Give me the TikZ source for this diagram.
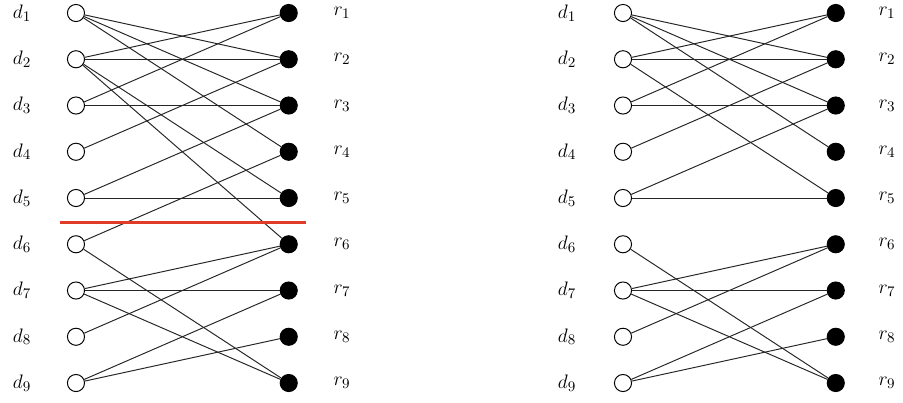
\documentclass[tikz,border=0pt]{standalone}
\usetikzlibrary{positioning}
\definecolor{cutred}{HTML}{E03C28}
\tikzset{
  every picture/.style={line width=0.6pt},
  dnode/.style={circle, draw, fill=white, minimum size=3.7mm, inner sep=0pt},
  rnode/.style={circle, draw, fill=black, minimum size=3.7mm, inner sep=0pt},
  lbl/.style={font=\fontsize{13}{15}\selectfont, inner sep=0pt},
  edge/.style={draw=black!85},
  cut/.style={draw=cutred, line width=2pt},
}

\begin{document}
\begin{tikzpicture}
  \useasboundingbox (-1.643,-0.719) rectangle (17.881,-9.411);
  % left graph
  \foreach \i in {1,...,9} {
    \node[lbl] (ldl\i) at (-1.168,-\i) {$d_{\i}$};
    \node[dnode] (ld\i) at (0,-\i) {};
    \node[rnode] (lr\i) at (4.6,-\i) {};
    \node[lbl] (lrl\i) at (5.751,-\i) {$r_{\i}$};
  }
  \foreach \a/\b in {1/2,1/3,1/4,2/1,2/2,2/5,2/6,3/1,3/3,4/2,5/3,5/5,6/4,6/9,7/6,7/7,7/9,8/6,9/7,9/8}
    \draw[edge] (ld\a) -- (lr\b);
  \coordinate (cutl) at (-0.346,-5.526);
  \coordinate (cutr) at (4.973,-5.526);
  \draw[cut] (cutl) -- (cutr);
  % right graph
  \foreach \i in {1,...,9} {
    \node[lbl] (rdl\i) at (10.616,-\i) {$d_{\i}$};
    \node[dnode] (rd\i) at (11.827,-\i) {};
    \node[rnode] (rr\i) at (16.427,-\i) {};
    \node[lbl] (rrl\i) at (17.535,-\i) {$r_{\i}$};
  }
  \foreach \a/\b in {1/2,1/3,1/4,2/1,2/2,2/5,3/1,3/3,4/2,5/3,5/5,6/9,7/6,7/7,7/9,8/6,9/7,9/8}
    \draw[edge] (rd\a) -- (rr\b);
\end{tikzpicture}
\end{document}
